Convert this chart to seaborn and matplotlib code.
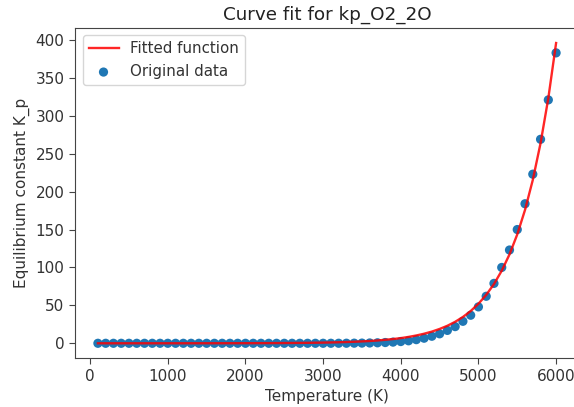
import numpy as np
import pandas as pd
import matplotlib
matplotlib.use("Agg")
import matplotlib.pyplot as plt
import seaborn as sns

# Temperatures (K)
temperature = [100, 200, 300, 400, 500, 600, 700, 800, 900, 1000,
               1100, 1200, 1300, 1400, 1500, 1600, 1700, 1800, 1900, 2000,
               2100, 2200, 2300, 2400, 2500, 2600, 2700, 2800, 2900, 3000,
               3100, 3200, 3300, 3400, 3500, 3600, 3700, 3800, 3900, 4000,
               4100, 4200, 4300, 4400, 4500, 4600, 4700, 4800, 4900, 5000,
               5100, 5200, 5300, 5400, 5500, 5600, 5700, 5800, 5900, 6000]

# Original data (equilibrium constant K_p)
kp_data = [0.0, 0.0, 0.0, 0.0, 0.0, 0.0, 0.0, 0.0, 0.0, 0.0,
           0.0, 0.0, 0.0, 0.0, 0.0, 0.0, 0.0, 0.0, 0.0, 0.0,
           0.0, 0.0, 0.0, 0.0, 0.0, 0.0, 0.001, 0.003, 0.006, 0.013,
           0.025, 0.047, 0.085, 0.15, 0.25, 0.41, 0.65, 1.0, 1.55, 2.3,
           3.3, 4.8, 6.7, 9.3, 12.5, 17.0, 22.0, 29.0, 37.0, 48.0,
           62.0, 79.0, 100.0, 123.0, 150.0, 184.0, 223.0, 269.0, 321.0, 383.0]

# Fitted function values at the same temperatures
kp_fit = [0.003, 0.003, 0.004, 0.005, 0.006, 0.007, 0.008, 0.010, 0.013, 0.016,
          0.019, 0.023, 0.028, 0.035, 0.043, 0.052, 0.064, 0.079, 0.097, 0.12,
          0.15, 0.18, 0.22, 0.27, 0.33, 0.40, 0.49, 0.60, 0.74, 0.90,
          1.11, 1.36, 1.66, 2.0, 2.5, 3.0, 3.7, 4.6, 5.6, 6.8,
          8.4, 10.3, 12.6, 15.4, 18.9, 23.1, 28.3, 34.7, 42.5, 52.1,
          63.8, 78.1, 95.7, 117.2, 143.6, 175.9, 215.4, 263.9, 323.3, 396.0]

df = pd.DataFrame({"T": temperature, "kp": kp_data, "fit": kp_fit})

plt.style.use("default")
plt.rcParams["font.family"] = ["DejaVu Sans"]
fig = plt.figure(figsize=(5.74, 4.07), dpi=100)
ax = fig.add_axes([75 / 574, (407 - 358.3) / 407, (579 - 75) / 574, (358.3 - 28) / 407])

sns.lineplot(data=df, x="T", y="fit", ax=ax, color="red", linewidth=1.7,
             label="Fitted function", alpha=0.85)
sns.scatterplot(data=df, x="T", y="kp", ax=ax, color="#1f77b4", s=44,
                linewidth=0, edgecolor="none", label="Original data")

ax.set_xlim(-195, 6295)
ax.set_ylim(-19.8, 415.8)
ax.set_xticks([0, 1000, 2000, 3000, 4000, 5000, 6000])
ax.set_yticks([0, 50, 100, 150, 200, 250, 300, 350, 400])
ax.set_xlabel("Temperature (K)", fontsize=11, color="#333333")
ax.set_ylabel("Equilibrium constant K_p", fontsize=11, color="#333333")
ax.set_title("Curve fit for kp_O2_2O", fontsize=13.2, color="#222222")
ax.tick_params(labelsize=11, length=4, labelcolor="#333333", color="#444444")
for sp in ax.spines.values():
    sp.set_color("#444444")
leg = ax.legend(loc="upper left", fontsize=10.8)
for t in leg.get_texts():
    t.set_color("#333333")

fig.savefig("out.png", dpi=100)
